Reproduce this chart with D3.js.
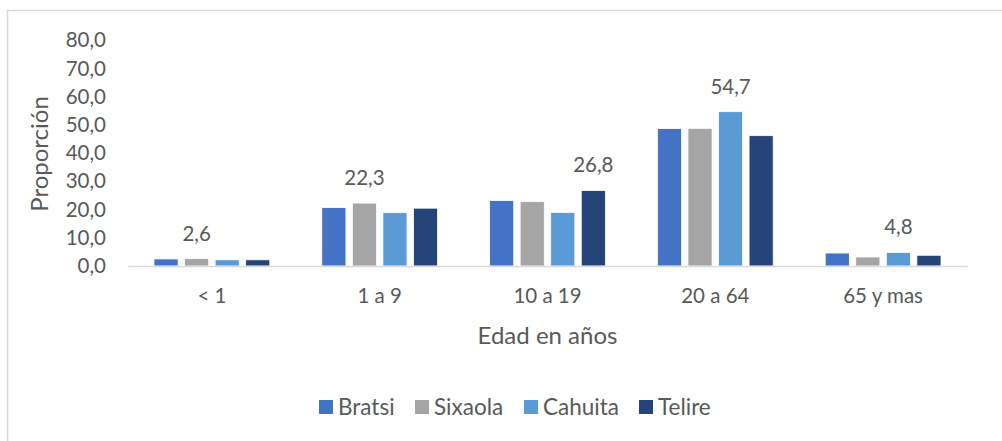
<!DOCTYPE html>
<html>
<head>
<meta charset="utf-8">
<script src="https://cdn.jsdelivr.net/npm/d3@7"></script>
<style>
  body { margin:0; background:#fff; }
  text { font-family: Lato, "Open Sans", sans-serif; fill:#595959; }
</style>
</head>
<body>
<svg id="chart" width="1002" height="441"></svg>
<script>
// datos
const categories = ['< 1', '1 a 9', '10 a 19', '20 a 64', '65 y mas'];
const seriesNames = ['Bratsi', 'Sixaola', 'Cahuita', 'Telire'];
const bratsi  = [2.5, 20.7, 23.2, 48.7, 4.6];
const sixaola = [2.6, 22.3, 22.8, 48.8, 3.2];
const cahuita = [2.2, 18.9, 19.0, 54.7, 4.8];
const telire  = [2.2, 20.5, 26.8, 46.2, 3.8];
const yTicks = [0, 10, 20, 30, 40, 50, 60, 70, 80];
const colors = ['#4472C4', '#A5A5A5', '#5B9BD5', '#264478'];

const values = [bratsi, sixaola, cahuita, telire];
const rows = categories.map((c, i) => ({cat: c, vals: values.map(s => s[i])}));

const svg = d3.select('#chart');
const fmt = v => d3.format('.1f')(v).replace('.', ',');

// marco
svg.append('rect')
    .attr('x', 7.5).attr('y', 10.5)
    .attr('width', 1100).attr('height', 600)
    .attr('fill', 'none').attr('stroke', '#d9d9d9').attr('stroke-width', 1.5);

const plot = {left: 128, right: 967, top: 40.3, bottom: 266};

const x = d3.scaleBand().domain(categories).range([plot.left, plot.right]).padding(0);
const xInner = d3.scaleBand().domain(d3.range(seriesNames.length))
    .range([26, x.bandwidth() - 26]).paddingInner(0.21).paddingOuter(0);
const y = d3.scaleLinear().domain([0, 80]).range([plot.bottom, plot.top]);

// eje y
const yAxis = svg.append('g')
    .attr('transform', `translate(${plot.left - 22},0)`)
    .call(d3.axisLeft(y).tickValues(yTicks).tickFormat(fmt).tickSize(0).tickPadding(0));
yAxis.select('.domain').remove();
yAxis.selectAll('text').attr('font-size', 20.5).attr('fill', '#595959')
    .style('font-family', 'Lato, sans-serif');

// barras
const groups = svg.append('g').selectAll('g')
    .data(rows).join('g')
    .attr('transform', d => `translate(${x(d.cat)},0)`);

groups.selectAll('rect')
    .data(d => d.vals.map((v, i) => ({v, i})))
    .join('rect')
    .attr('x', d => xInner(d.i))
    .attr('width', xInner.bandwidth())
    .attr('y', d => y(d.v))
    .attr('height', d => y(0) - y(d.v))
    .attr('fill', d => colors[d.i])
    .attr('stroke', '#fff').attr('stroke-width', 0.8);

// etiqueta solo en el valor máximo de cada grupo
groups.append('text')
    .attr('x', d => xInner(d3.maxIndex(d.vals)) + xInner.bandwidth() / 2)
    .attr('y', d => y(d3.max(d.vals)) - 18)
    .attr('text-anchor', 'middle')
    .attr('font-size', 20.5)
    .attr('fill', '#404040')
    .text(d => fmt(d3.max(d.vals)));

// eje x
const xAxis = svg.append('g')
    .attr('transform', `translate(0,${plot.bottom})`)
    .call(d3.axisBottom(x).tickSize(0).tickPadding(22));
xAxis.select('.domain').attr('stroke', '#d9d9d9').attr('stroke-width', 1.5);
xAxis.selectAll('text').attr('font-size', 20.5).attr('fill', '#595959')
    .style('font-family', 'Lato, sans-serif');

// títulos de ejes
svg.append('text')
    .attr('x', (plot.left + plot.right) / 2).attr('y', 344)
    .attr('text-anchor', 'middle').attr('font-size', 24)
    .text('Edad en años');

svg.append('text')
    .attr('transform', 'translate(48,154) rotate(-90)')
    .attr('text-anchor', 'middle').attr('font-size', 24)
    .text('Proporción');

// leyenda
const legendX = [319, 415, 524, 639];
const legend = svg.append('g').selectAll('g')
    .data(seriesNames).join('g')
    .attr('transform', (d, i) => `translate(${legendX[i]},400)`);
legend.append('rect').attr('width', 14).attr('height', 14)
    .attr('fill', (d, i) => colors[i]);
legend.append('text').attr('x', 19).attr('y', 14.5)
    .attr('font-size', 22.5).text(d => d);
</script>
</body>
</html>
